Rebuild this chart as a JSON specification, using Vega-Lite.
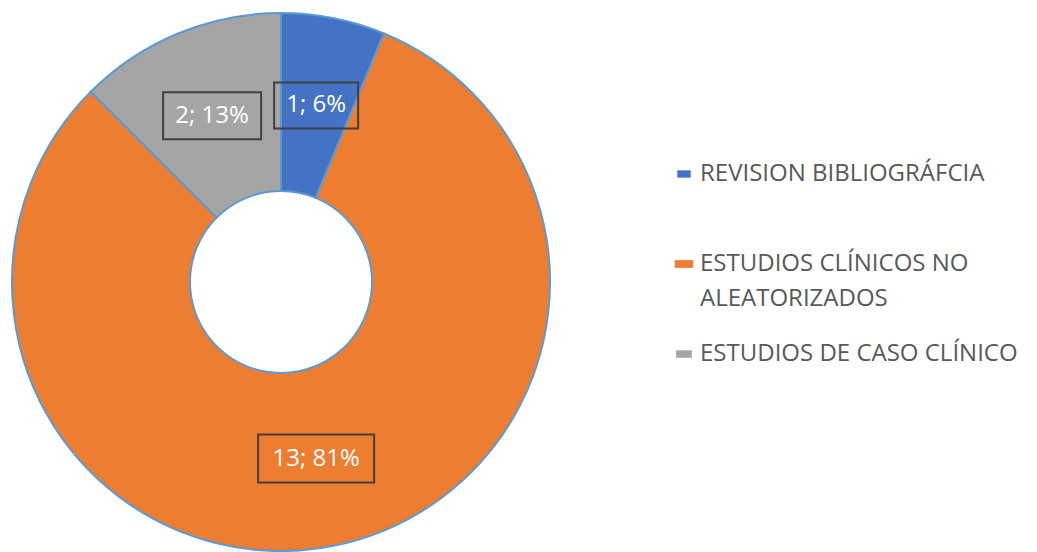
{
  "$schema": "https://vega.github.io/schema/vega-lite/v6.json",
  "width": 562,
  "height": 540,
  "padding": {"top": 12, "left": 0, "right": 475, "bottom": 0},
  "autosize": {"type": "none"},
  "background": "white",
  "config": {"view": {"stroke": null}, "font": "Open Sans", "style": {"guide-label": {"lineHeight": 35}}},
  "data": {"values": [
    {"category": "REVISION BIBLIOGRÁFCIA", "count": 1, "label": "1; 6%", "order": 1},
    {"category": "ESTUDIOS CLÍNICOS NO ALEATORIZADOS", "count": 13, "label": "13; 81%", "order": 2},
    {"category": "ESTUDIOS DE CASO CLÍNICO", "count": 2, "label": "2; 13%", "order": 3}
  ]},
  "transform": [
    {"window": [{"op": "sum", "field": "count", "as": "cum"}], "sort": [{"field": "order"}], "frame": [null, 0]},
    {"joinaggregate": [{"op": "sum", "field": "count", "as": "total"}]},
    {"calculate": "2*PI*(datum.cum - datum.count/2)/datum.total", "as": "mid"},
    {"calculate": "180*sin(datum.mid)", "as": "lx"},
    {"calculate": "180*cos(datum.mid)", "as": "ly"}
  ],
  "layer": [
    {
      "mark": {"type": "arc", "outerRadius": 269, "innerRadius": 91, "stroke": "#5B9BD5", "strokeWidth": 2},
      "encoding": {
        "theta": {"field": "count", "type": "quantitative", "stack": true},
        "order": {"field": "order", "type": "quantitative"},
        "color": {
          "field": "category",
          "type": "nominal",
          "scale": {
            "domain": ["REVISION BIBLIOGRÁFCIA", "ESTUDIOS CLÍNICOS NO ALEATORIZADOS", "ESTUDIOS DE CASO CLÍNICO"],
            "range": ["#4472C4", "#ED7D31", "#A5A5A5"]
          },
          "legend": {
            "title": null,
            "orient": "none",
            "legendX": 672,
            "legendY": 150,
            "padding": 0,
            "symbolType": "square",
            "symbolSize": 64,
            "symbolStrokeWidth": 0,
            "labelFontSize": 24,
            "labelColor": "#595959",
            "labelFont": "Open Sans",
            "labelOffset": 4,
            "labelLimit": 600,
            "rowPadding": 31,
            "labelExpr": "datum.label == 'ESTUDIOS CLÍNICOS NO ALEATORIZADOS' ? ['ESTUDIOS CLÍNICOS NO', 'ALEATORIZADOS'] : [datum.label, ' ']",
            "encode": {"labels": {"enter": {"lineHeight": {"value": 35}}, "update": {"lineHeight": {"value": 35}}}}
          }
        }
      }
    },
    {
      "mark": {"type": "point", "filled": false, "stroke": "#404040", "strokeWidth": 2, "size": 2500, "opacity": 1},
      "encoding": {
        "x": {"field": "lx", "type": "quantitative", "scale": {"domain": [-281, 281], "nice": false, "zero": false}, "axis": null},
        "y": {"field": "ly", "type": "quantitative", "scale": {"domain": [-270, 270], "nice": false, "zero": false}, "axis": null},
        "shape": {
          "field": "category",
          "type": "nominal",
          "scale": {
            "domain": ["REVISION BIBLIOGRÁFCIA", "ESTUDIOS CLÍNICOS NO ALEATORIZADOS", "ESTUDIOS DE CASO CLÍNICO"],
            "range": [
              "M-1.68,-0.92L1.68,-0.92L1.68,0.92L-1.68,0.92Z",
              "M-2.32,-0.96L2.32,-0.96L2.32,0.96L-2.32,0.96Z",
              "M-1.96,-0.94L1.96,-0.94L1.96,0.94L-1.96,0.94Z"
            ]
          },
          "legend": null
        }
      }
    },
    {
      "mark": {"type": "text", "color": "white", "fontSize": 24, "font": "Open Sans", "align": "center", "baseline": "middle"},
      "encoding": {
        "x": {"field": "lx", "type": "quantitative"},
        "y": {"field": "ly", "type": "quantitative"},
        "text": {"field": "label", "type": "nominal"}
      }
    }
  ]
}
